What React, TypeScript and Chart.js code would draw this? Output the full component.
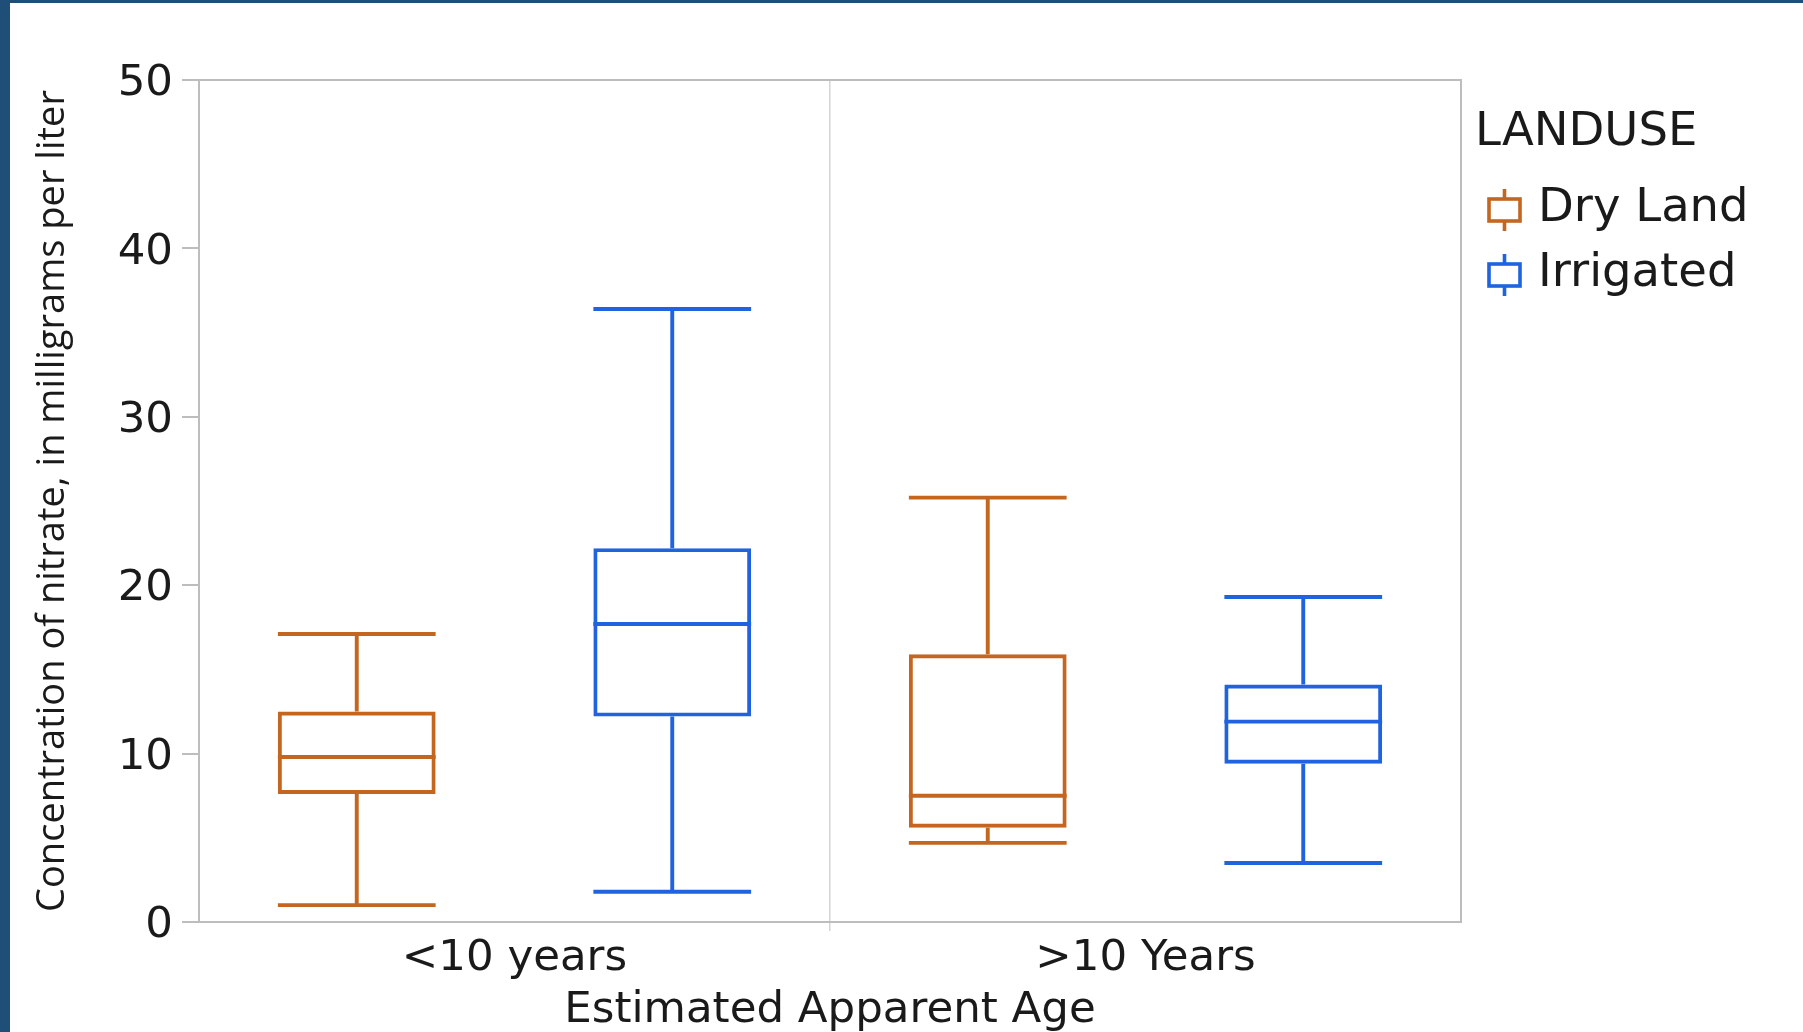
import React, { useEffect, useRef } from 'react';
import { Chart, registerables } from 'chart.js';

Chart.register(...registerables);

// Nitrate concentration (mg/L) by estimated apparent age and land use
const ageGroups = ['<10 years', '>10 Years'];
const landUse = ['Dry Land', 'Irrigated'];

const dryMin = [1.0, 4.7];
const dryQ1 = [7.6, 5.6];
const dryMedian = [9.8, 7.5];
const dryQ3 = [12.5, 15.9];
const dryMax = [17.1, 25.2];

const irrMin = [1.8, 3.5];
const irrQ1 = [12.2, 9.4];
const irrMedian = [17.7, 11.9];
const irrQ3 = [22.2, 14.1];
const irrMax = [36.4, 19.3];

const yMin = 0;
const yMax = 50;
const yStep = 10;

const DRY_COLOR = '#C4661F';
const IRR_COLOR = '#1F63E0';
const AXIS_COLOR = '#BDBDBD';
const DIVIDER_COLOR = '#D4D4D4';
const TEXT_COLOR = '#1A1A1A';
const LABEL_FONT = "'DejaVu Sans', 'Open Sans', sans-serif";
const TITLE_FONT = "'Open Sans', 'Noto Sans', sans-serif";
const LINE_W = 3.9;

const seriesStats = [
  { min: dryMin, q1: dryQ1, median: dryMedian, q3: dryQ3, max: dryMax },
  { min: irrMin, q1: irrQ1, median: irrMedian, q3: irrQ3, max: irrMax },
];
const seriesColors = [DRY_COLOR, IRR_COLOR];

// Medians, whiskers and caps on top of the floating-bar boxes
const whiskerPlugin = {
  id: 'whiskers',
  afterDatasetsDraw(chart: any) {
    const { ctx } = chart;
    const y = chart.scales.y;
    chart.data.datasets.forEach((ds: any, i: number) => {
      const meta = chart.getDatasetMeta(i);
      const stats = seriesStats[i];
      meta.data.forEach((el: any, j: number) => {
        const half = el.width / 2;
        const x = el.x;
        const pMin = y.getPixelForValue(stats.min[j]);
        const pQ1 = y.getPixelForValue(stats.q1[j]);
        const pMed = y.getPixelForValue(stats.median[j]);
        const pQ3 = y.getPixelForValue(stats.q3[j]);
        const pMax = y.getPixelForValue(stats.max[j]);
        ctx.save();
        ctx.strokeStyle = seriesColors[i];
        ctx.lineWidth = LINE_W;
        ctx.lineCap = 'butt';
        ctx.beginPath();
        // median
        ctx.moveTo(x - half, pMed);
        ctx.lineTo(x + half, pMed);
        // upper whisker + cap
        ctx.moveTo(x, pQ3);
        ctx.lineTo(x, pMax);
        ctx.moveTo(x - half, pMax);
        ctx.lineTo(x + half, pMax);
        // lower whisker + cap
        ctx.moveTo(x, pQ1);
        ctx.lineTo(x, pMin);
        ctx.moveTo(x - half, pMin);
        ctx.lineTo(x + half, pMin);
        ctx.stroke();
        ctx.restore();
      });
    });
  },
};

// Grey frame around the plotting area
const framePlugin = {
  id: 'frame',
  beforeDatasetsDraw(chart: any) {
    const { ctx, chartArea } = chart;
    ctx.save();
    ctx.strokeStyle = AXIS_COLOR;
    ctx.lineWidth = 2;
    ctx.strokeRect(chartArea.left, chartArea.top, chartArea.right - chartArea.left, chartArea.bottom - chartArea.top);
    ctx.restore();
  },
};

// Legend: "LANDUSE" with small box-plot glyphs
const legendPlugin = {
  id: 'landuseLegend',
  afterDraw(chart: any) {
    const { ctx, chartArea } = chart;
    const left = chartArea.right + 14;
    const top = chartArea.top;
    ctx.save();
    ctx.fillStyle = TEXT_COLOR;
    ctx.font = `46.5px ${LABEL_FONT}`;
    ctx.textBaseline = 'middle';
    ctx.textAlign = 'left';
    ctx.fillText('LANDUSE', left, top + 53);
    landUse.forEach((name, i) => {
      const cy = top + 129 + i * 65;
      const ix = left + 14;
      ctx.strokeStyle = seriesColors[i];
      ctx.lineWidth = 3.6;
      ctx.strokeRect(ix, cy - 10, 31, 22);
      ctx.beginPath();
      ctx.moveTo(ix + 15.5, cy - 20);
      ctx.lineTo(ix + 15.5, cy - 10);
      ctx.moveTo(ix + 15.5, cy + 12);
      ctx.lineTo(ix + 15.5, cy + 22);
      ctx.stroke();
      ctx.fillStyle = TEXT_COLOR;
      ctx.fillText(name, left + 63, cy);
    });
    ctx.restore();
  },
};

export default function App() {
  const canvasRef = useRef<HTMLCanvasElement | null>(null);

  useEffect(() => {
    document.body.style.margin = '0';
    const canvas = canvasRef.current;
    if (!canvas) return;

    const datasets = landUse.map((name, i) => ({
      label: name,
      data: ageGroups.map((_, j) => [seriesStats[i].q1[j], seriesStats[i].q3[j]]),
      backgroundColor: 'rgba(0,0,0,0)',
      borderColor: seriesColors[i],
      borderWidth: LINE_W,
      borderSkipped: false,
      barPercentage: 0.5,
      categoryPercentage: 1,
    }));

    const chart = new Chart(canvas, {
      type: 'bar',
      data: { labels: ageGroups, datasets },
      options: {
        animation: false,
        responsive: false,
        devicePixelRatio: 1,
        layout: { padding: { top: 77, right: 342, left: 0, bottom: 0 } },
        plugins: {
          legend: { display: false },
          tooltip: { enabled: false },
        },
        scales: {
          x: {
            offset: true,
            grid: {
              offset: true,
              drawOnChartArea: true,
              color: (c: any) => (c.index === 1 ? DIVIDER_COLOR : 'rgba(0,0,0,0)'),
              tickColor: (c: any) => (c.index === 1 ? DIVIDER_COLOR : 'rgba(0,0,0,0)'),
              lineWidth: 1.5,
              tickLength: 9,
            },
            border: { display: true, color: AXIS_COLOR, width: 2 },
            ticks: {
              color: TEXT_COLOR,
              font: { family: LABEL_FONT, size: 43.5 },
              padding: 2,
              maxRotation: 0,
            },
            title: {
              display: true,
              text: 'Estimated Apparent Age',
              color: TEXT_COLOR,
              font: { family: LABEL_FONT, size: 43.5, lineHeight: 1.0 },
              padding: { top: 0, bottom: 0 },
            },
            afterFit(scale: any) {
              scale.height = 110;
            },
          },
          y: {
            min: yMin,
            max: yMax,
            grid: {
              drawOnChartArea: false,
              color: AXIS_COLOR,
              tickColor: AXIS_COLOR,
              lineWidth: 2,
              tickLength: 17,
            },
            border: { display: true, color: AXIS_COLOR, width: 2 },
            ticks: {
              stepSize: yStep,
              color: TEXT_COLOR,
              font: { family: LABEL_FONT, size: 43.5 },
              padding: 9,
              labelOffset: 4,
            },
            title: {
              display: true,
              text: 'Concentration of nitrate, in milligrams per liter',
              color: TEXT_COLOR,
              font: { family: TITLE_FONT, size: 38 },
              padding: { top: 20, bottom: 0 },
            },
            afterFit(scale: any) {
              scale.width = 189;
            },
          },
        },
      },
      plugins: [framePlugin, whiskerPlugin, legendPlugin],
    } as any);

    return () => chart.destroy();
  }, []);

  return (
    <div
      style={{
        position: 'absolute',
        left: 0,
        top: 0,
        width: 1803,
        height: 1032,
        background: '#1F4E79',
        overflow: 'hidden',
      }}
    >
      <canvas
        ref={canvasRef}
        width={1793}
        height={1029}
        style={{ position: 'absolute', left: 10, top: 3, width: 1793, height: 1029, background: '#FFFFFF' }}
      />
    </div>
  );
}
